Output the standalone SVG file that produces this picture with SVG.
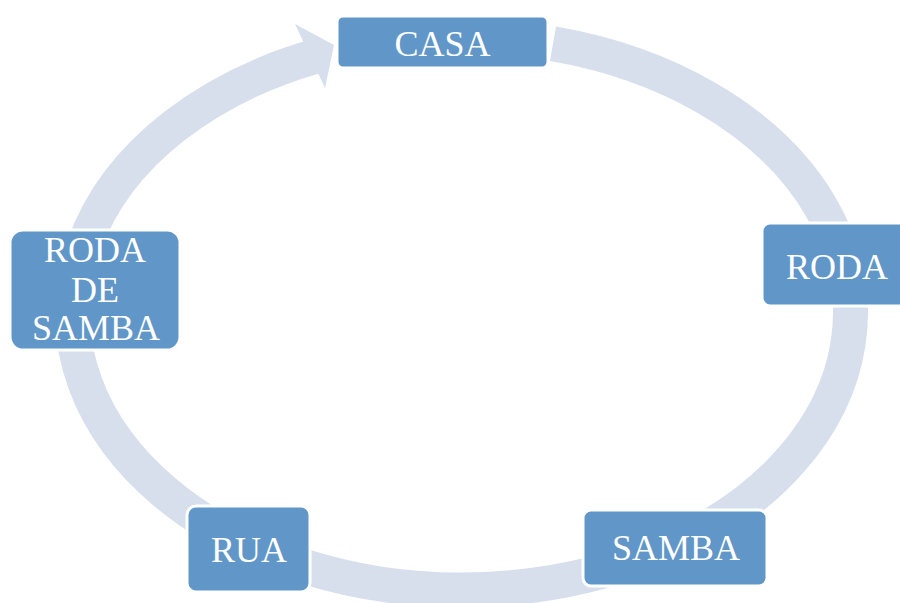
<svg xmlns="http://www.w3.org/2000/svg" width="900" height="603" viewBox="0 0 900 603">
  <defs>
    <style>
      .ring { fill: none; stroke: #D7DFEC; stroke-width: 35; stroke-linecap: butt; }
      .head { fill: #D7DFEC; stroke: none; }
      .box { fill: #6096C8; stroke: #FFFFFF; stroke-width: 3; }
      .lbl { font-family: "Liberation Serif", "Times New Roman", serif; font-size: 36px; fill: #FFFFFF; text-anchor: middle; }
    </style>
  </defs>
  <rect width="900" height="603" fill="#FFFFFF"/>
  <g id="connectors">
    <path class="ring" d="M 553 43.8 A 389 277 0 1 1 315 56.4"/>
    <polygon class="head" points="295,24 334,45 325,88"/>
  </g>
  <g id="node-casa">
    <rect class="box" x="337" y="16" width="211" height="52" rx="6"/>
    <text class="lbl" x="442.5" y="56">CASA</text>
  </g>
  <g id="node-roda">
    <rect class="box" x="762" y="223" width="152" height="83" rx="8"/>
    <text class="lbl" x="837" y="279">RODA</text>
  </g>
  <g id="node-samba">
    <rect class="box" x="583" y="510" width="184" height="76" rx="8"/>
    <text class="lbl" x="676" y="560">SAMBA</text>
  </g>
  <g id="node-rua">
    <rect class="box" x="187" y="506" width="123" height="86" rx="9"/>
    <text class="lbl" x="249" y="562">RUA</text>
  </g>
  <g id="node-roda-de-samba">
    <rect class="box" x="10" y="230" width="170" height="120" rx="13"/>
    <text class="lbl" x="95" y="262">RODA</text>
    <text class="lbl" x="95" y="302">DE</text>
    <text class="lbl" x="96" y="340">SAMBA</text>
  </g>
</svg>
